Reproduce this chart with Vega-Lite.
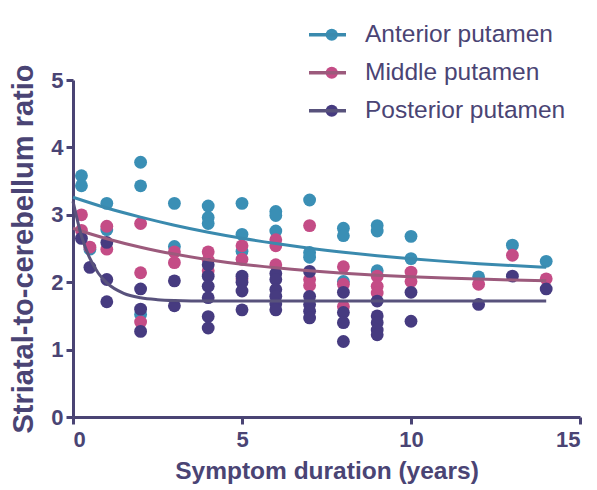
{
  "$schema": "https://vega.github.io/schema/vega-lite/v6.json",
  "width": 507,
  "height": 337,
  "autosize": {"type": "none"},
  "padding": {"left": 73, "top": 80, "right": 17, "bottom": 73},
  "background": "white",
  "config": {
    "view": {"stroke": null},
    "axis": {
      "grid": false,
      "domainColor": "#4a4474",
      "domainWidth": 3,
      "tickColor": "#4a4474",
      "tickWidth": 3,
      "tickSize": 7,
      "labelFont": "Liberation Sans",
      "labelFontWeight": "bold",
      "labelFontSize": 22,
      "labelColor": "#4a4474",
      "titleColor": "#4a4474",
      "titleFont": "Liberation Sans",
      "titleFontWeight": "bold",
      "format": "d"
    },
    "legend": {
      "labelFont": "Liberation Sans",
      "labelFontSize": 24.5,
      "labelColor": "#4a4474",
      "labelLimit": 0,
      "padding": 0,
      "rowPadding": 0
    }
  },
  "datasets": {
    "pts": [
      {"s": "Anterior putamen", "x": 0.25, "y": 3.58},
      {"s": "Anterior putamen", "x": 0.25, "y": 3.43},
      {"s": "Anterior putamen", "x": 0.5, "y": 2.49},
      {"s": "Anterior putamen", "x": 1, "y": 3.17},
      {"s": "Anterior putamen", "x": 1, "y": 2.78},
      {"s": "Anterior putamen", "x": 2, "y": 3.78},
      {"s": "Anterior putamen", "x": 2, "y": 3.43},
      {"s": "Anterior putamen", "x": 2, "y": 1.52},
      {"s": "Anterior putamen", "x": 3, "y": 3.17},
      {"s": "Anterior putamen", "x": 3, "y": 2.53},
      {"s": "Anterior putamen", "x": 4, "y": 3.13},
      {"s": "Anterior putamen", "x": 4, "y": 2.96},
      {"s": "Anterior putamen", "x": 4, "y": 2.87},
      {"s": "Anterior putamen", "x": 5, "y": 3.17},
      {"s": "Anterior putamen", "x": 5, "y": 2.71},
      {"s": "Anterior putamen", "x": 5, "y": 2.46},
      {"s": "Anterior putamen", "x": 6, "y": 3.05},
      {"s": "Anterior putamen", "x": 6, "y": 2.99},
      {"s": "Anterior putamen", "x": 6, "y": 2.76},
      {"s": "Anterior putamen", "x": 7, "y": 3.22},
      {"s": "Anterior putamen", "x": 7, "y": 2.44},
      {"s": "Anterior putamen", "x": 7, "y": 2.37},
      {"s": "Anterior putamen", "x": 8, "y": 2.8},
      {"s": "Anterior putamen", "x": 8, "y": 2.69},
      {"s": "Anterior putamen", "x": 8, "y": 2.01},
      {"s": "Anterior putamen", "x": 9, "y": 2.84},
      {"s": "Anterior putamen", "x": 9, "y": 2.76},
      {"s": "Anterior putamen", "x": 9, "y": 2.17},
      {"s": "Anterior putamen", "x": 10, "y": 2.68},
      {"s": "Anterior putamen", "x": 10, "y": 2.35},
      {"s": "Anterior putamen", "x": 12, "y": 2.08},
      {"s": "Anterior putamen", "x": 13, "y": 2.55},
      {"s": "Anterior putamen", "x": 14, "y": 2.31},
      {"s": "Middle putamen", "x": 0.25, "y": 3.0},
      {"s": "Middle putamen", "x": 0.25, "y": 2.77},
      {"s": "Middle putamen", "x": 0.5, "y": 2.52},
      {"s": "Middle putamen", "x": 1, "y": 2.83},
      {"s": "Middle putamen", "x": 1, "y": 2.49},
      {"s": "Middle putamen", "x": 2, "y": 2.87},
      {"s": "Middle putamen", "x": 2, "y": 2.14},
      {"s": "Middle putamen", "x": 2, "y": 1.41},
      {"s": "Middle putamen", "x": 3, "y": 2.45},
      {"s": "Middle putamen", "x": 3, "y": 2.29},
      {"s": "Middle putamen", "x": 4, "y": 2.45},
      {"s": "Middle putamen", "x": 4, "y": 2.33},
      {"s": "Middle putamen", "x": 4, "y": 2.17},
      {"s": "Middle putamen", "x": 5, "y": 2.54},
      {"s": "Middle putamen", "x": 5, "y": 2.34},
      {"s": "Middle putamen", "x": 5, "y": 2.05},
      {"s": "Middle putamen", "x": 6, "y": 2.63},
      {"s": "Middle putamen", "x": 6, "y": 2.54},
      {"s": "Middle putamen", "x": 6, "y": 2.26},
      {"s": "Middle putamen", "x": 7, "y": 2.84},
      {"s": "Middle putamen", "x": 7, "y": 2.04},
      {"s": "Middle putamen", "x": 7, "y": 1.95},
      {"s": "Middle putamen", "x": 8, "y": 2.23},
      {"s": "Middle putamen", "x": 8, "y": 1.97},
      {"s": "Middle putamen", "x": 8, "y": 1.64},
      {"s": "Middle putamen", "x": 9, "y": 2.09},
      {"s": "Middle putamen", "x": 9, "y": 1.94},
      {"s": "Middle putamen", "x": 9, "y": 1.84},
      {"s": "Middle putamen", "x": 10, "y": 2.15},
      {"s": "Middle putamen", "x": 10, "y": 2.01},
      {"s": "Middle putamen", "x": 12, "y": 1.97},
      {"s": "Middle putamen", "x": 13, "y": 2.4},
      {"s": "Middle putamen", "x": 14, "y": 2.05},
      {"s": "Posterior putamen", "x": 0.25, "y": 2.65},
      {"s": "Posterior putamen", "x": 0.5, "y": 2.22},
      {"s": "Posterior putamen", "x": 1, "y": 2.59},
      {"s": "Posterior putamen", "x": 1, "y": 2.04},
      {"s": "Posterior putamen", "x": 1, "y": 1.71},
      {"s": "Posterior putamen", "x": 2, "y": 1.9},
      {"s": "Posterior putamen", "x": 2, "y": 1.6},
      {"s": "Posterior putamen", "x": 2, "y": 1.27},
      {"s": "Posterior putamen", "x": 3, "y": 2.02},
      {"s": "Posterior putamen", "x": 3, "y": 1.65},
      {"s": "Posterior putamen", "x": 4, "y": 2.26},
      {"s": "Posterior putamen", "x": 4, "y": 2.09},
      {"s": "Posterior putamen", "x": 4, "y": 1.94},
      {"s": "Posterior putamen", "x": 4, "y": 1.77},
      {"s": "Posterior putamen", "x": 4, "y": 1.49},
      {"s": "Posterior putamen", "x": 4, "y": 1.32},
      {"s": "Posterior putamen", "x": 5, "y": 2.09},
      {"s": "Posterior putamen", "x": 5, "y": 2.0},
      {"s": "Posterior putamen", "x": 5, "y": 1.87},
      {"s": "Posterior putamen", "x": 5, "y": 1.59},
      {"s": "Posterior putamen", "x": 6, "y": 2.13},
      {"s": "Posterior putamen", "x": 6, "y": 2.04},
      {"s": "Posterior putamen", "x": 6, "y": 1.89},
      {"s": "Posterior putamen", "x": 6, "y": 1.79},
      {"s": "Posterior putamen", "x": 6, "y": 1.68},
      {"s": "Posterior putamen", "x": 6, "y": 1.59},
      {"s": "Posterior putamen", "x": 7, "y": 2.16},
      {"s": "Posterior putamen", "x": 7, "y": 1.79},
      {"s": "Posterior putamen", "x": 7, "y": 1.67},
      {"s": "Posterior putamen", "x": 7, "y": 1.57},
      {"s": "Posterior putamen", "x": 7, "y": 1.47},
      {"s": "Posterior putamen", "x": 8, "y": 1.85},
      {"s": "Posterior putamen", "x": 8, "y": 1.55},
      {"s": "Posterior putamen", "x": 8, "y": 1.4},
      {"s": "Posterior putamen", "x": 8, "y": 1.12},
      {"s": "Posterior putamen", "x": 9, "y": 1.72},
      {"s": "Posterior putamen", "x": 9, "y": 1.5},
      {"s": "Posterior putamen", "x": 9, "y": 1.4},
      {"s": "Posterior putamen", "x": 9, "y": 1.29},
      {"s": "Posterior putamen", "x": 9, "y": 1.22},
      {"s": "Posterior putamen", "x": 10, "y": 1.85},
      {"s": "Posterior putamen", "x": 10, "y": 1.42},
      {"s": "Posterior putamen", "x": 12, "y": 1.67},
      {"s": "Posterior putamen", "x": 13, "y": 2.09},
      {"s": "Posterior putamen", "x": 14, "y": 1.9}
    ],
    "fit": [
      {"s": "Anterior putamen", "x": 0, "y": 3.26},
      {"s": "Anterior putamen", "x": 1, "y": 3.10},
      {"s": "Anterior putamen", "x": 2, "y": 2.965},
      {"s": "Anterior putamen", "x": 3, "y": 2.845},
      {"s": "Anterior putamen", "x": 4, "y": 2.741},
      {"s": "Anterior putamen", "x": 5, "y": 2.651},
      {"s": "Anterior putamen", "x": 6, "y": 2.573},
      {"s": "Anterior putamen", "x": 7, "y": 2.504},
      {"s": "Anterior putamen", "x": 8, "y": 2.445},
      {"s": "Anterior putamen", "x": 9, "y": 2.394},
      {"s": "Anterior putamen", "x": 10, "y": 2.349},
      {"s": "Anterior putamen", "x": 11, "y": 2.309},
      {"s": "Anterior putamen", "x": 12, "y": 2.275},
      {"s": "Anterior putamen", "x": 13, "y": 2.246},
      {"s": "Anterior putamen", "x": 14, "y": 2.221},
      {"s": "Middle putamen", "x": 0, "y": 2.8},
      {"s": "Middle putamen", "x": 0.5, "y": 2.718},
      {"s": "Middle putamen", "x": 1, "y": 2.645},
      {"s": "Middle putamen", "x": 2, "y": 2.519},
      {"s": "Middle putamen", "x": 3, "y": 2.417},
      {"s": "Middle putamen", "x": 4, "y": 2.334},
      {"s": "Middle putamen", "x": 5, "y": 2.267},
      {"s": "Middle putamen", "x": 6, "y": 2.213},
      {"s": "Middle putamen", "x": 7, "y": 2.169},
      {"s": "Middle putamen", "x": 8, "y": 2.133},
      {"s": "Middle putamen", "x": 9, "y": 2.104},
      {"s": "Middle putamen", "x": 10, "y": 2.08},
      {"s": "Middle putamen", "x": 11, "y": 2.061},
      {"s": "Middle putamen", "x": 12, "y": 2.046},
      {"s": "Middle putamen", "x": 13, "y": 2.033},
      {"s": "Middle putamen", "x": 14, "y": 2.023},
      {"s": "Posterior putamen", "x": 0, "y": 3.2},
      {"s": "Posterior putamen", "x": 0.25, "y": 2.688},
      {"s": "Posterior putamen", "x": 0.5, "y": 2.352},
      {"s": "Posterior putamen", "x": 0.75, "y": 2.133},
      {"s": "Posterior putamen", "x": 1, "y": 1.99},
      {"s": "Posterior putamen", "x": 1.5, "y": 1.835},
      {"s": "Posterior putamen", "x": 2, "y": 1.769},
      {"s": "Posterior putamen", "x": 2.5, "y": 1.741},
      {"s": "Posterior putamen", "x": 3, "y": 1.729},
      {"s": "Posterior putamen", "x": 4, "y": 1.721},
      {"s": "Posterior putamen", "x": 14, "y": 1.72}
    ]
  },
  "layer": [
    {
      "data": {"name": "pts"},
      "mark": {"type": "point", "filled": true, "opacity": 1, "size": 165, "shape": "circle"},
      "encoding": {
        "x": {
          "field": "x", "type": "quantitative",
          "scale": {"domain": [0, 15], "nice": false, "zero": true},
          "axis": {"values": [0, 5, 10, 15], "title": "Symptom duration (years)",
                   "titleFontSize": 24.5, "labelPadding": 5, "titlePadding": 9}
        },
        "y": {
          "field": "y", "type": "quantitative",
          "scale": {"domain": [0, 5], "nice": false},
          "axis": {"values": [0, 1, 2, 3, 4, 5], "title": "Striatal-to-cerebellum ratio",
                   "titleFontSize": 29, "labelPadding": 3, "titlePadding": 12}
        },
        "color": {
          "field": "s", "type": "nominal",
          "scale": {"domain": ["Anterior putamen", "Middle putamen", "Posterior putamen"],
                    "range": ["#3a8fb5", "#c44c86", "#463b80"]},
          "legend": {"title": null, "orient": "none", "legendX": 246.5, "legendY": -64,
                     "symbolType": "circle", "symbolSize": 150, "symbolStrokeWidth": 0,
                     "clipHeight": 37.5, "labelOffset": 21}
        }
      }
    },
    {
      "data": {"name": "fit"},
      "mark": {"type": "line", "strokeWidth": 3, "interpolate": "monotone"},
      "encoding": {
        "x": {"field": "x", "type": "quantitative"},
        "y": {"field": "y", "type": "quantitative"},
        "stroke": {
          "field": "s", "type": "nominal",
          "scale": {"range": ["#3a8aae", "#9c5a7c", "#58527c"]},
          "legend": {"title": null, "orient": "none", "legendX": 234, "legendY": -64,
                     "symbolType": "stroke", "symbolSize": 1369, "symbolStrokeWidth": 3.3,
                     "clipHeight": 37.5, "labelExpr": "''", "labelOffset": 0}
        }
      }
    }
  ]
}
